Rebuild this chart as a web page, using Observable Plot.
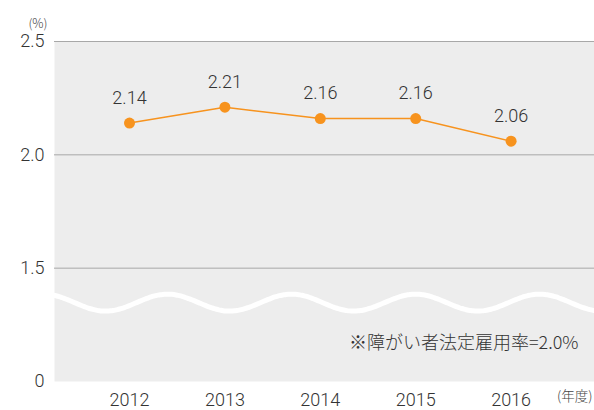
<!DOCTYPE html>
<html><head><meta charset="utf-8">
<script src="https://cdn.jsdelivr.net/npm/d3@7"></script>
<script src="https://cdn.jsdelivr.net/npm/@observablehq/plot@0.6"></script>
<style>
body{margin:0;background:#fff;}
#chart svg{display:block;}
</style></head>
<body><div id="chart"></div>
<script>
const years = [2012, 2013, 2014, 2015, 2016];
const rates = [2.14, 2.21, 2.16, 2.16, 2.06];
const yTicks = [1.0, 1.5, 2.0, 2.5];
const gridValues = [1.5, 2.0, 2.5];
const note = "※障がい者法定雇用率=2.0%";
const yUnit = "(%)";
const xUnit = "(年度)";

const data = years.map((y, i) => ({year: y, rate: rates[i]}));

// axis-break wave decoration (not data): white sine band between 0 and 1.5
const xDomain = [2011.214, 2016.874];
const wave = d3.range(0, 241).map(i => {
  const x = xDomain[0] + (xDomain[1] - xDomain[0]) * i / 240;
  return {x, y: 1.348 + 0.0374 * Math.cos(2 * Math.PI * (x - 2012.399) / 1.30)};
});

const font = 'Roboto,"Noto Sans CJK JP",sans-serif';
const cjk = '"Noto Sans CJK JP",sans-serif';
const chart = Plot.plot({
  width: 594, height: 410,
  marginLeft: 54, marginRight: 0, marginTop: 41, marginBottom: 29,
  style: {fontFamily: font, color: "#333"},
  x: {domain: xDomain, axis: null},
  y: {domain: [1.0, 2.5], axis: null},
  marks: [
    Plot.frame({fill: "#ededed", stroke: null}),
    Plot.ruleY(gridValues, {stroke: "#a8a8a8", strokeWidth: 1}),
    Plot.line(wave, {x: "x", y: "y", stroke: "#fff", strokeWidth: 5, curve: "basis"}),
    Plot.axisY({ticks: yTicks, tickSize: 0, tickPadding: 10, fontSize: 18, fontWeight: 300,
      tickFormat: d => d === 1 ? "0" : d.toFixed(1), fill: "#333"}),
    Plot.axisX({ticks: years, tickSize: 0, tickPadding: 12, fontSize: 18, fontWeight: 300,
      tickFormat: d => String(d), fill: "#333"}),
    Plot.line(data, {x: "year", y: "rate", stroke: "#f7931e", strokeWidth: 1.5}),
    Plot.dot(data, {x: "year", y: "rate", r: 5.5, fill: "#f7931e", stroke: null}),
    Plot.text(data, {x: "year", y: "rate", text: d => d.rate.toFixed(2), dy: -25,
      fontSize: 18, fontWeight: 300, fill: "#333"}),
    Plot.text([note], {frameAnchor: "bottom-right", dx: -16, dy: -33, fontSize: 18, fontWeight: 300,
      fill: "#333", textAnchor: "end", fontFamily: cjk}),
    Plot.text([yUnit], {frameAnchor: "top-left", dx: -7, dy: -22, fontSize: 12.5, fontWeight: 300,
      fill: "#444", fontFamily: cjk, textAnchor: "end"}),
    Plot.text([xUnit], {frameAnchor: "bottom-right", dx: -2, dy: 19, fontSize: 13.5, fontWeight: 300,
      fill: "#444", fontFamily: cjk, textAnchor: "end"})
  ]
});
document.getElementById("chart").appendChild(chart);
</script></body></html>
